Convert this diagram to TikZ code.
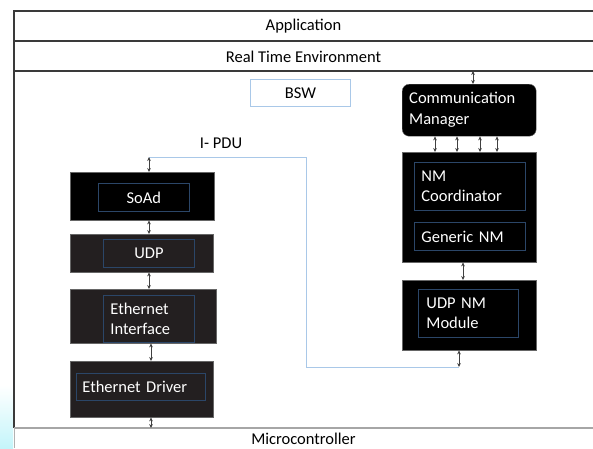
\documentclass[tikz,border=0pt]{standalone}
\usepackage{fontspec}
\setmainfont{Carlito}
\usetikzlibrary{arrows.meta}
\definecolor{darkbox}{HTML}{231F20}
\definecolor{innerblue}{HTML}{2B4668}
\definecolor{pdublue}{HTML}{A9C8E8}
\definecolor{rule}{HTML}{3A3A3A}
\definecolor{glow}{HTML}{C4F5FA}
\begin{document}
\begin{tikzpicture}[x=1pt,y=-1pt,
  layertxt/.style={font=\fontsize{16.5}{19}\selectfont, text=black, inner sep=0},
  outerbox/.style={fill=black, draw=black!60, line width=0.4pt, inner sep=0, anchor=north west},
  greybox/.style={outerbox, fill=darkbox},
  innerbox/.style={draw=innerblue, line width=0.8pt, inner sep=0, anchor=north west,
    text=white, font=\fontsize{16.5}{20}\selectfont},
  leftbox/.style={innerbox, align=left, inner xsep=7pt},
  biarrow/.style={{Stealth[length=4pt,width=3.6pt]}-{Stealth[length=4pt,width=3.6pt]},
    draw=black!75, line width=0.6pt},
  pduline/.style={draw=pdublue, line width=0.9pt},
]
\useasboundingbox (0,0) rectangle (593,448);

% faint glow at the lower left corner
\shade[top color=white, bottom color=glow] (0,385) rectangle (13,448);

% layer bands
\draw[rule, line width=1.4pt] (14,11) -- (593,11);
\draw[rule, line width=1.4pt] (14,41) -- (593,41);
\draw[rule, line width=1.1pt] (14,71) -- (593,71);
\draw[rule, line width=1.1pt] (14,10.3) -- (14,428);
\draw[black!35, line width=1.1pt] (14,428) -- (593,428);
\draw[black!30, line width=0.6pt] (14.5,428) -- (14.5,448);

\node[layertxt] (app) at (303.5,26) {Application};
\node[layertxt] (rte) at (303.5,57) {Real Time Environment};
\node[layertxt, anchor=base] (mcu) at (303.5,444.5) {Microcontroller};

\node[draw=pdublue, fill=white, line width=0.8pt, inner sep=0, anchor=north west,
  minimum width=100pt, minimum height=27pt, font=\fontsize{16.5}{19}\selectfont] (bsw) at (250,79) {BSW};

% left stack
\node[outerbox, minimum width=144pt, minimum height=48pt] (soad) at (70,172) {};
\node[innerbox, minimum width=91pt, minimum height=28pt] (soadin) at (98,183) {SoAd};

\node[greybox, minimum width=143pt, minimum height=38pt] (udp) at (70,234) {};
\node[innerbox, minimum width=91pt, minimum height=28pt] (udpin) at (103,239) {UDP};

\node[greybox, minimum width=146pt, minimum height=54pt] (ethif) at (70,289) {};
\node[leftbox, text width=77pt, minimum height=47pt] (ethifin) at (103,295) {Ethernet\\Interface};

\node[greybox, minimum width=143pt, minimum height=56pt] (ethdrv) at (70,361) {};
\node[leftbox, inner xsep=6pt, text width=117pt, minimum height=27pt] (ethdrvin) at (76,373) {Ethernet Driver};

% right stack
\node[outerbox, rounded corners=7pt, minimum width=134pt, minimum height=52pt,
  text=white, font=\fontsize{16.5}{21}\selectfont, align=left, text width=120pt, inner xsep=7pt] (cm) at (402,84) {Communication\\Manager};

\node[outerbox, minimum width=134pt, minimum height=110pt] (nm) at (402,152) {};
\node[leftbox, text width=97pt, minimum height=48pt] (nmc) at (414,162) {NM\\Coordinator};
\node[leftbox, text width=97pt, minimum height=28pt] (gnm) at (414,222) {Generic NM};

\node[outerbox, minimum width=134pt, minimum height=70pt] (udpnm) at (402,280) {};
\node[leftbox, inner xsep=8pt, text width=84pt, minimum height=48pt] (udpnmin) at (418,289) {UDP NM\\Module};

% I-PDU route
\coordinate (pduL) at (149,157);
\coordinate (pduT) at (306,157);
\coordinate (pduB) at (306,367);
\coordinate (pduR) at (459,367);
\node[layertxt] (pdulbl) at (221,143) {I- PDU};
\draw[pduline] (pduL) -- (pduT) -- (pduB) -- (pduR);

% vertical links, left stack
\coordinate (lx) at (149,0);
\coordinate (lx2) at (151,0);
\draw[biarrow] (pduL) -- (soad.north -| lx);
\draw[biarrow] (soad.south -| lx) -- (udp.north -| lx);
\draw[biarrow] (udp.south -| lx) -- (ethif.north -| lx);
\draw[biarrow] (ethif.south -| lx2) -- (ethdrv.north -| lx2);
\coordinate (mcutop) at (151,428);
\draw[biarrow] (ethdrv.south -| mcutop) -- (mcutop);

% vertical links, right stack
\coordinate (rtecm) at (473,71);
\draw[biarrow] (rtecm) -- (rtecm |- cm.north);
\foreach \k/\xx in {a/435, b/457, c/480, d/497} {
  \coordinate (cmx\k) at (\xx,0);
  \draw[biarrow] (cm.south -| cmx\k) -- (nm.north -| cmx\k);
}
\coordinate (nmx) at (463,0);
\draw[biarrow] (nm.south -| nmx) -- (udpnm.north -| nmx);
\draw[biarrow] (udpnm.south -| pduR) -- (pduR);
\end{tikzpicture}
\end{document}
